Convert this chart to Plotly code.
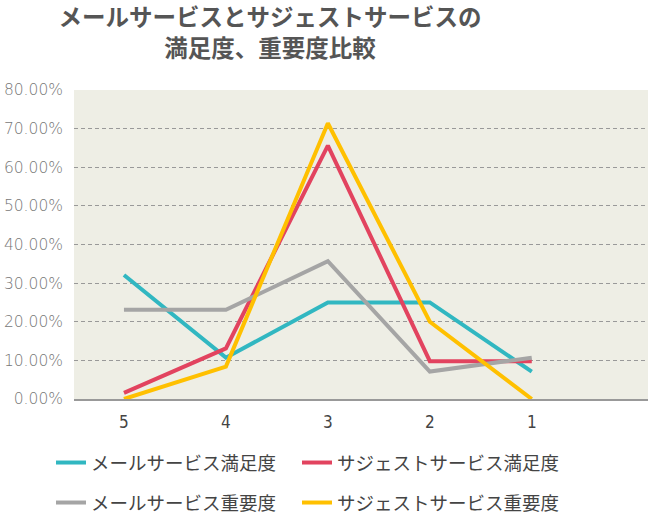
import plotly.graph_objects as go

categories = ["5", "4", "3", "2", "1"]
mail_satisfaction = [0.321, 0.107, 0.250, 0.250, 0.071]
suggest_satisfaction = [0.016, 0.131, 0.656, 0.098, 0.098]
mail_importance = [0.231, 0.231, 0.357, 0.071, 0.107]
suggest_importance = [0.0, 0.084, 0.714, 0.200, 0.0]

names = ["メールサービス満足度", "サジェストサービス満足度", "メールサービス重要度", "サジェストサービス重要度"]
colors = ["#31b7c1", "#e2435f", "#a5a5a5", "#ffc000"]
series = [mail_satisfaction, suggest_satisfaction, mail_importance, suggest_importance]
legends = ["legend", "legend2", "legend3", "legend4"]
# legend anchor positions in pixels (left x, centre y)
legend_px = [(51, 463), (297, 463), (51, 503), (297, 503)]

fig = go.Figure()
for n, c, s, lg in zip(names, colors, series, legends):
    fig.add_trace(go.Scatter(x=categories, y=s, name=n, mode="lines",
                             line=dict(color=c, width=4), legend=lg))

L, T, B, R = 74, 90, 399, 648
pw, ph = R - L, B - T
legend_font = dict(family="Noto Sans CJK JP", size=18.5, color="#444444")
legend_layout = {}
for lg, (px, py) in zip(legends, legend_px):
    legend_layout[lg] = dict(orientation="h", x=(px - L) / pw, xanchor="left",
                             y=(B - py) / ph, yanchor="middle",
                             font=legend_font, bgcolor="rgba(0,0,0,0)")

fig.update_layout(
    width=650, height=513,
    margin=dict(l=L, r=650 - R, t=T, b=513 - B, autoexpand=False),
    paper_bgcolor="white",
    plot_bgcolor="#eeeee5",
    title=dict(text="<b>メールサービスとサジェストサービスの<br>満足度、重要度比較</b>",
               x=270/650, xanchor="center", yref="container", y=1-26/513, yanchor="middle",
               font=dict(family="Noto Sans CJK JP", size=23.5, color="#555555")),
    xaxis=dict(type="category", range=[-0.49, 5.14], showgrid=False,
               showline=True, linecolor="#999999", linewidth=1.5,
               ticks="", ticklabelstandoff=7,
               tickfont=dict(family="DejaVu Sans Condensed", size=17, color="#444444"),
               zeroline=False),
    yaxis=dict(range=[0, 0.8], dtick=0.1, tickformat=".2%",
               showgrid=True, gridcolor="#999999", griddash="4px,3px", gridwidth=1,
               zeroline=False, showline=False, ticks="", ticklabelstandoff=10,
               tickfont=dict(family="DejaVu Sans", size=15.5, color="#777777", weight=300)),
    showlegend=True,
    **legend_layout,
)

fig.write_html("out.html")
